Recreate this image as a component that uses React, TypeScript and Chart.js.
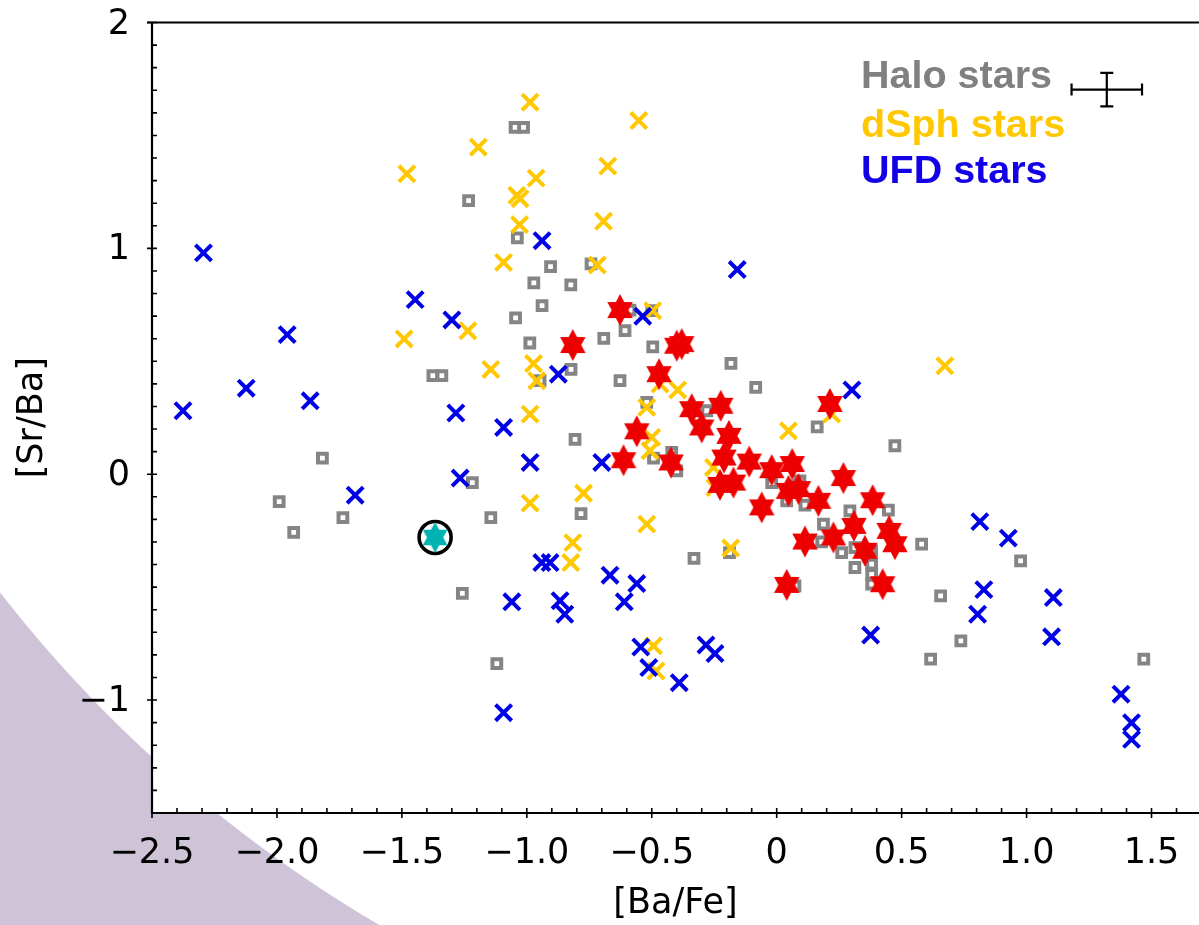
import React, { useEffect, useRef } from 'react';
import { Chart, registerables } from 'chart.js';

Chart.register(...registerables);

// Axis ranges and tick labels
const X_MIN = -2.5;
const X_MAX = 1.69;
const Y_MIN = -1.5;
const Y_MAX = 2;
const X_TICKS = [-2.5, -2.0, -1.5, -1.0, -0.5, 0, 0.5, 1.0, 1.5];
const Y_TICKS = [-1, 0, 1, 2];

// [Ba/Fe], [Sr/Ba]
const HALO = [
  [-1.376, 0.436], [-1.34, 0.436], [-1.818, 0.071], [-1.991, -0.121], [-1.736, -0.192], [-1.933, -0.257],
  [-1.047, 1.536], [-1.013, 1.536], [-1.233, 1.211], [-1.038, 1.046], [-0.905, 0.919], [-0.743, 0.931],
  [-0.972, 0.847], [-0.824, 0.838], [-0.939, 0.746], [-1.045, 0.692], [-0.988, 0.581], [-0.587, 0.727],
  [-0.607, 0.636], [-0.5, 0.724], [-0.692, 0.601], [-0.496, 0.564], [-0.823, 0.464], [-0.627, 0.414],
  [-0.947, 0.414], [-0.52, 0.318], [-0.493, 0.071], [-0.807, 0.154], [-1.218, -0.037], [-1.144, -0.192],
  [-0.783, -0.174], [-1.258, -0.528], [-1.12, -0.839], [-0.183, 0.491], [-0.084, 0.384], [-0.28, 0.281],
  [0.162, 0.21], [0.473, 0.126], [-0.42, 0.097], [-0.4, 0.015], [-0.02, -0.037], [0.093, -0.029],
  [0.113, -0.137], [0.293, -0.162], [0.447, -0.159], [-0.331, -0.373], [-0.189, -0.347], [0.073, -0.494],
  [0.187, -0.221], [0.18, -0.3], [0.26, -0.347], [0.313, -0.325], [0.313, -0.413], [0.38, -0.339],
  [0.38, -0.398], [0.38, -0.443], [0.38, -0.487], [0.58, -0.31], [0.067, -0.051], [0.04, -0.118],
  [0.976, -0.384], [0.656, -0.539], [0.737, -0.738], [0.616, -0.819], [1.469, -0.819],
];

const DSPH = [
  [-1.491, 0.599], [-0.987, 1.647], [-0.552, 1.566], [-1.194, 1.448], [-1.48, 1.33], [-0.963, 1.311],
  [-0.676, 1.364], [-1.04, 1.235], [-1.027, 1.22], [-1.029, 1.105], [-0.693, 1.12], [-1.093, 0.938],
  [-0.718, 0.926], [-1.236, 0.635], [-0.496, 0.724], [-1.144, 0.464], [-0.973, 0.49], [-0.96, 0.414],
  [-0.987, 0.266], [-0.52, 0.296], [-0.5, 0.163], [-0.507, 0.104], [-0.987, -0.128], [-0.773, -0.084],
  [-0.52, -0.221], [-0.816, -0.303], [-0.824, -0.391], [-0.493, -0.76], [-0.483, -0.871], [-0.467, 0.399],
  [-0.396, 0.373], [0.22, 0.266], [0.047, 0.192], [-0.253, 0.03], [-0.247, -0.059], [-0.184, -0.327],
  [0.673, 0.48],
];

const UFD = [
  [-2.294, 0.98], [-1.447, 0.773], [-1.3, 0.683], [-1.959, 0.618], [-2.123, 0.381], [-1.867, 0.325],
  [-2.376, 0.281], [-1.284, 0.271], [-1.687, -0.093], [-0.939, 1.034], [-0.536, 0.699], [-0.874, 0.443],
  [-1.093, 0.207], [-0.987, 0.052], [-1.267, -0.017], [-0.7, 0.052], [-0.94, -0.391], [-0.907, -0.391],
  [-0.667, -0.447], [-0.56, -0.484], [-1.06, -0.565], [-0.867, -0.56], [-0.848, -0.62], [-0.61, -0.565],
  [-0.544, -0.765], [-0.512, -0.856], [-1.093, -1.056], [-0.158, 0.906], [0.301, 0.373], [-0.283, -0.756],
  [-0.247, -0.794], [-0.39, -0.923], [0.376, -0.712], [0.813, -0.21], [0.927, -0.283], [0.829, -0.511],
  [0.804, -0.62], [1.107, -0.546], [1.1, -0.72], [1.378, -0.974], [1.42, -1.1], [1.42, -1.174],
];

const SAMPLE = [
  [-0.627, 0.727], [-0.816, 0.572], [-0.4, 0.569], [-0.38, 0.576], [-0.471, 0.443], [0.213, 0.311],
  [-0.34, 0.288], [-0.224, 0.303], [-0.3, 0.207], [-0.56, 0.19], [-0.191, 0.17], [-0.613, 0.062],
  [-0.423, 0.052], [-0.211, 0.074], [-0.227, -0.047], [-0.173, -0.037], [-0.11, 0.056], [-0.02, 0.018],
  [0.062, 0.045], [0.047, -0.074], [0.087, -0.066], [0.267, -0.017], [0.384, -0.115], [-0.06, -0.147],
  [0.167, -0.118], [0.04, -0.49], [0.113, -0.298], [0.227, -0.28], [0.309, -0.229], [0.353, -0.339],
  [0.45, -0.251], [0.473, -0.31], [0.424, -0.487],
];

const HIGHLIGHT = [[-1.367, -0.28]];

// typical error bar: centre and half-widths
const ERR_CENTER = [1.321, 1.703];
const ERR_HALF = [0.141, 0.074];

const LEGEND_LABELS = ['Halo stars', 'dSph stars', 'UFD stars'];
const LEGEND_COLORS = ['#808080', '#ffc800', '#1400e6'];

const toPts = (arr: number[][]) => arr.map(([x, y]) => ({ x, y }));

function fmtX(v: number) {
  if (Math.abs(v) < 1e-9) return '0';
  return (v < 0 ? '\u2212' : '') + Math.abs(v).toFixed(1);
}
function fmtY(v: number) {
  if (Math.abs(v) < 1e-9) return '0';
  return (v < 0 ? '\u2212' : '') + Math.abs(v).toFixed(0);
}

function makeStar(R: number, color: string, sx = 0.92) {
  const c = document.createElement('canvas');
  const w = Math.ceil(2 * R * sx + 4);
  const h = Math.ceil(2 * R + 4);
  c.width = w;
  c.height = h;
  const ctx = c.getContext('2d')!;
  ctx.fillStyle = color;
  ctx.beginPath();
  const r = R * 0.57;
  for (let i = 0; i < 12; i++) {
    const a = -Math.PI / 2 + (i * Math.PI) / 6;
    const rr = i % 2 === 0 ? R : r;
    const px = w / 2 + rr * Math.cos(a) * sx;
    const py = h / 2 + rr * Math.sin(a);
    if (i === 0) ctx.moveTo(px, py);
    else ctx.lineTo(px, py);
  }
  ctx.closePath();
  ctx.fill();
  return c;
}

const framePlugin = {
  id: 'frame',
  beforeDraw(chart: any) {
    const { ctx, chartArea: ca } = chart;
    ctx.save();
    ctx.fillStyle = '#ffffff';
    ctx.fillRect(ca.left, ca.top, ca.right - ca.left, ca.bottom - ca.top);
    ctx.restore();
  },
  beforeDatasetsDraw(chart: any) {
    const { ctx, chartArea: ca, scales } = chart;
    const xs = scales.x;
    const ys = scales.y;
    ctx.save();
    ctx.strokeStyle = '#000';
    ctx.lineWidth = 2.2;
    ctx.lineCap = 'butt';
    ctx.beginPath();
    ctx.moveTo(ca.left, ca.top);
    ctx.lineTo(ca.left, ca.bottom);
    ctx.moveTo(ca.left - 1, ca.bottom);
    ctx.lineTo(ca.right, ca.bottom);
    ctx.moveTo(ca.left - 5, ca.top);
    ctx.lineTo(ca.right, ca.top);
    ctx.stroke();
    ctx.lineWidth = 1.6;
    ctx.beginPath();
    for (let i = Math.round(Y_MIN * 10); i <= Math.round(Y_MAX * 10); i++) {
      const v = i / 10;
      const py = ys.getPixelForValue(v);
      const major = i % 10 === 0;
      ctx.moveTo(major ? ca.left - 5 : ca.left, py);
      ctx.lineTo(ca.left + 5, py);
    }
    for (let i = Math.round(X_MIN * 10); i <= Math.floor(X_MAX * 10); i++) {
      const v = i / 10;
      const px = xs.getPixelForValue(v);
      const major = i % 5 === 0;
      ctx.moveTo(px, major ? ca.bottom + 5 : ca.bottom);
      ctx.lineTo(px, ca.bottom - 5);
    }
    ctx.stroke();
    ctx.restore();
  },
  afterDatasetsDraw(chart: any) {
    const { ctx, scales } = chart;
    const xs = scales.x;
    const ys = scales.y;
    ctx.save();
    // error bar
    const cx = xs.getPixelForValue(ERR_CENTER[0]);
    const cy = ys.getPixelForValue(ERR_CENTER[1]);
    const x0 = xs.getPixelForValue(ERR_CENTER[0] - ERR_HALF[0]);
    const x1 = xs.getPixelForValue(ERR_CENTER[0] + ERR_HALF[0]);
    const y0 = ys.getPixelForValue(ERR_CENTER[1] + ERR_HALF[1]);
    const y1 = ys.getPixelForValue(ERR_CENTER[1] - ERR_HALF[1]);
    ctx.strokeStyle = '#000';
    ctx.lineWidth = 2.2;
    ctx.beginPath();
    ctx.moveTo(x0, cy); ctx.lineTo(x1, cy);
    ctx.moveTo(x0, cy - 6); ctx.lineTo(x0, cy + 6);
    ctx.moveTo(x1, cy - 6); ctx.lineTo(x1, cy + 6);
    ctx.moveTo(cx, y0); ctx.lineTo(cx, y1);
    ctx.moveTo(cx - 6.5, y0); ctx.lineTo(cx + 6.5, y0);
    ctx.moveTo(cx - 6.5, y1); ctx.lineTo(cx + 6.5, y1);
    ctx.stroke();
    // legend text
    ctx.font = 'bold 39.5px "Liberation Sans", Arial, sans-serif';
    ctx.textAlign = 'left';
    ctx.textBaseline = 'alphabetic';
    const baselines = [88.3, 137.3, 183.3];
    LEGEND_LABELS.forEach((t, i) => {
      ctx.fillStyle = LEGEND_COLORS[i];
      ctx.fillText(t, 861, baselines[i]);
    });
    ctx.restore();
  },
};

export default function App() {
  const ref = useRef<HTMLCanvasElement>(null);
  useEffect(() => {
    if (!ref.current) return;
    const redStar = makeStar(16, '#ee0000');
    const cyanStar = makeStar(15.5, '#00b2b2');
    const tickFont = { family: '"DejaVu Sans", sans-serif', size: 35 };
    const chart = new Chart(ref.current, {
      type: 'scatter',
      data: {
        datasets: [
          {
            label: 'highlight',
            data: toPts(HIGHLIGHT),
            pointStyle: cyanStar as any,
            pointRadius: 15,
            order: 0,
          },
          {
            label: 'highlight ring',
            data: toPts(HIGHLIGHT),
            pointStyle: 'circle',
            pointRadius: 16,
            borderWidth: 3.6,
            borderColor: '#000000',
            backgroundColor: 'rgba(0,0,0,0)',
            order: 0,
          },
          {
            label: 'sample',
            data: toPts(SAMPLE),
            pointStyle: redStar as any,
            pointRadius: 15,
            order: 1,
          },
          {
            label: 'UFD stars',
            data: toPts(UFD),
            pointStyle: 'crossRot',
            pointRadius: 11.4,
            borderWidth: 4,
            borderColor: '#0000e6',
            backgroundColor: '#0000e6',
            order: 2,
          },
          {
            label: 'dSph stars',
            data: toPts(DSPH),
            pointStyle: 'crossRot',
            pointRadius: 11.4,
            borderWidth: 4,
            borderColor: '#ffc800',
            backgroundColor: '#ffc800',
            order: 3,
          },
          {
            label: 'Halo stars',
            data: toPts(HALO),
            pointStyle: 'rect',
            pointRadius: 6.2,
            borderWidth: 4,
            borderColor: '#858585',
            backgroundColor: '#ffffff',
            order: 4,
          },
        ],
      },
      options: {
        animation: false,
        responsive: false,
        events: [],
        layout: { autoPadding: false, padding: { top: 22.5, right: 0, bottom: 0, left: 0 } },
        plugins: {
          legend: { display: false },
          tooltip: { enabled: false },
        },
        scales: {
          x: {
            type: 'linear',
            min: X_MIN,
            max: X_MAX,
            grid: { display: false, drawTicks: false },
            border: { display: false },
            afterBuildTicks: (s: any) => {
              s.ticks = X_TICKS.map((v) => ({ value: v }));
            },
            afterFit: (s: any) => {
              s.height = 112;
              s.paddingLeft = 0;
              s.paddingRight = 0;
              s.paddingTop = 0;
              s.paddingBottom = 0;
            },
            ticks: {
              autoSkip: false,
              maxRotation: 0,
              minRotation: 0,
              padding: 20,
              color: '#000',
              font: tickFont,
              callback: (v: any) => fmtX(Number(v)),
            },
            title: {
              display: true,
              text: '[Ba/Fe]',
              color: '#000',
              font: tickFont,
              padding: { top: 0, bottom: 0 },
            },
          },
          y: {
            type: 'linear',
            min: Y_MIN,
            max: Y_MAX,
            grid: { display: false, drawTicks: false },
            border: { display: false },
            afterBuildTicks: (s: any) => {
              s.ticks = Y_TICKS.map((v) => ({ value: v }));
            },
            afterFit: (s: any) => {
              s.width = 152;
              s.paddingLeft = 0;
              s.paddingRight = 0;
              s.paddingTop = 0;
              s.paddingBottom = 0;
            },
            ticks: {
              autoSkip: false,
              padding: 22,
              labelOffset: 2,
              color: '#000',
              font: tickFont,
              callback: (v: any) => fmtY(Number(v)),
            },
            title: {
              display: true,
              text: '[Sr/Ba]',
              color: '#000',
              font: tickFont,
              padding: { top: 12, bottom: 0 },
            },
          },
        },
      },
      plugins: [framePlugin],
    });
    return () => chart.destroy();
  }, []);

  return (
    <div
      style={{
        position: 'fixed',
        left: 0,
        top: 0,
        width: 1199,
        height: 925,
        overflow: 'hidden',
        background:
          'radial-gradient(circle 1335px at 1054px -227px, #ffffff 1334.5px, #cfc3d7 1335.5px)',
      }}
    >
      <canvas ref={ref} width={1199} height={925} style={{ display: 'block' }} />
    </div>
  );
}
